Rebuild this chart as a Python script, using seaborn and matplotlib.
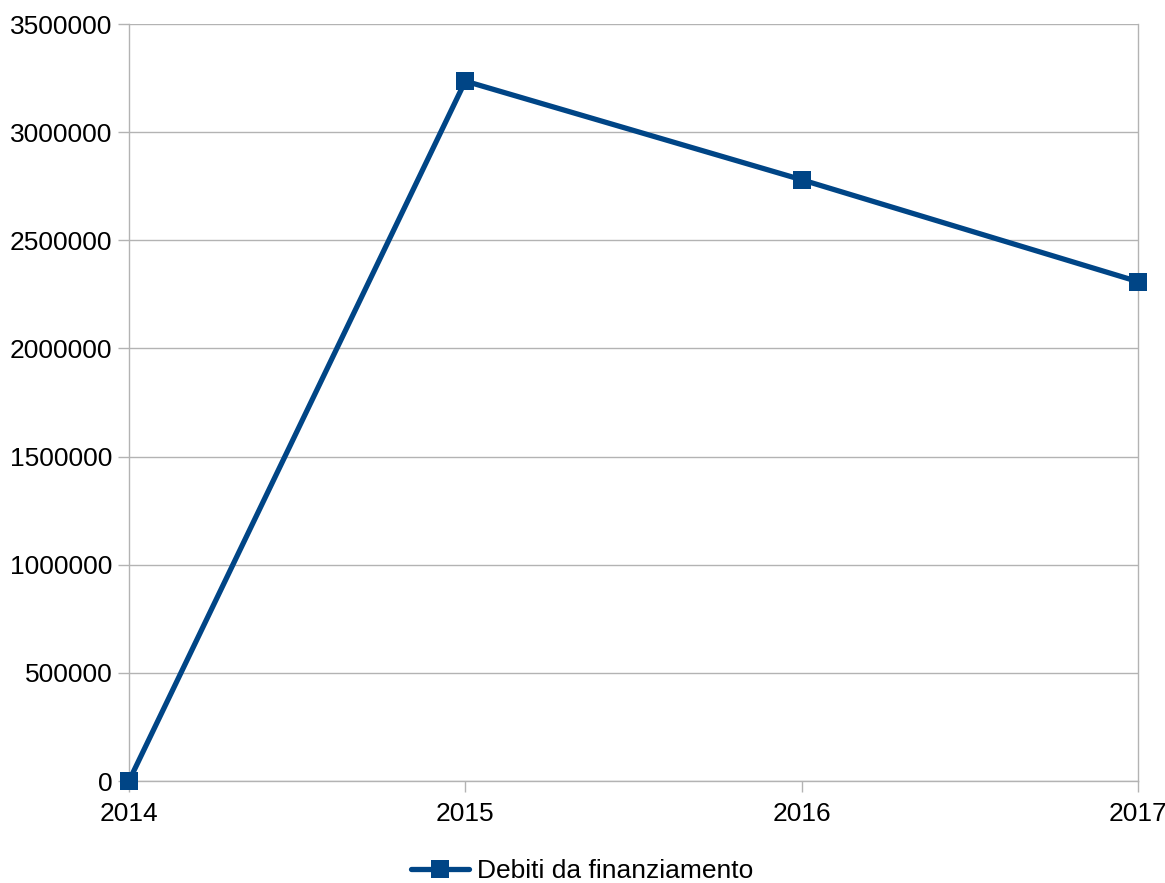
import numpy as np
import pandas as pd
import matplotlib.pyplot as plt
import seaborn as sns

# --- data ---
years = ["2014", "2015", "2016", "2017"]
debiti = [0, 3236000, 2780000, 2309000]
series_name = "Debiti da finanziamento"

df = pd.DataFrame({"Anno": years, "Valore": debiti, "Serie": series_name})

sns.set_theme(style="white")
plt.rcParams['font.family'] = ['Liberation Sans', 'DejaVu Sans']
plt.rcParams['text.color'] = 'black'

fig = plt.figure(figsize=(11.65, 8.83), dpi=100)
ax = fig.add_axes([0.1107, 0.1155, 0.8661, 0.8573])

line_color = "#004586"
grid_color = "#b3b3b3"

sns.lineplot(data=df, x="Anno", y="Valore", hue="Serie", palette=[line_color],
             marker="s", markersize=13, markeredgewidth=0, linewidth=3.8,
             ax=ax, sort=False, clip_on=False, zorder=5)

ax.set_xlim(0, 3)
ax.set_ylim(0, 3500000)
ax.set_yticks(np.arange(0, 3500001, 500000))
ax.yaxis.set_major_formatter(plt.FuncFormatter(lambda v, p: f"{int(v)}"))
ax.set_xlabel("")
ax.set_ylabel("")

ax.grid(axis="y", color=grid_color, linewidth=1)
ax.set_axisbelow(True)
for side in ["left", "right", "bottom", "top"]:
    ax.spines[side].set_color(grid_color)
    ax.spines[side].set_linewidth(1)
ax.spines["top"].set_visible(False)

ax.tick_params(axis="both", which="both", length=8, width=1, color=grid_color,
               labelsize=19, labelcolor="black", direction="out",
               left=True, bottom=True)
ax.tick_params(axis="y", pad=4)
ax.tick_params(axis="x", pad=7)

ax.get_legend().remove()
handles, labels = ax.get_legend_handles_labels()
fig.legend(handles, labels, loc="center", bbox_to_anchor=(0.5, 0.0135),
           ncol=1, frameon=False, fontsize=19, handlelength=2.2,
           handletextpad=0.3, markerscale=1.0, labelcolor="black")

fig.savefig("out.png", dpi=100)
